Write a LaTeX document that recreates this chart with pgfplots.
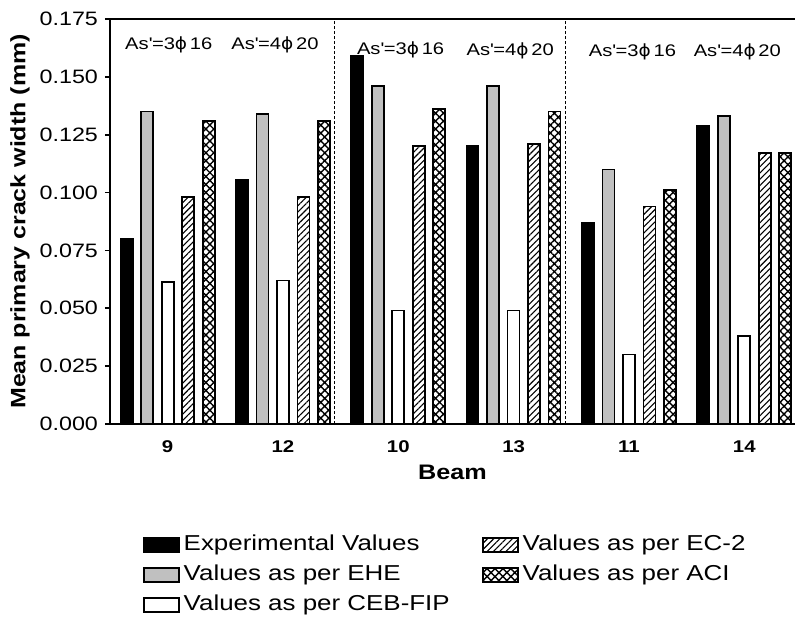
\documentclass[border=0pt]{standalone}
\usepackage{pgfplots}
\pgfplotsset{compat=1.18}
\usepackage{pgfplotstable}
\usetikzlibrary{patterns.meta}
\usepackage{fontspec}
\setmainfont{Liberation Sans}[FakeStretch=1.2]
\newfontfamily\dejavu{DejaVu Sans}[FakeStretch=1.1]
\newcommand\ph{{\dejavu ϕ}}

\pgfplotstableread{
x Exp EHE CEB EC2 ACI
0 0.080 0.135 0.0615 0.098 0.131
1 0.1055 0.134 0.062 0.098 0.131
2 0.159 0.146 0.049 0.120 0.136
3 0.120 0.146 0.049 0.121 0.135
4 0.087 0.110 0.030 0.094 0.101
5 0.129 0.133 0.038 0.117 0.117
}\data

\pgfplotsset{
  mybar/.style={ybar, bar width=6pt, draw=black, line width=0.85pt,
    legend image code/.code={\draw[##1,/tikz/.cd] (0pt,-3.5pt) rectangle (17.5pt,3.5pt); \path (19.5pt,0pt);}},
}

\begin{document}
\begin{tikzpicture}
\useasboundingbox (-55pt,-102pt) rectangle (342.5pt,212pt);
\begin{axis}[
  at={(0,0)}, anchor=south west,
  scale only axis, width=342.5pt, height=202.5pt,
  xmin=-0.5, xmax=5.44, ymin=0, ymax=0.175,
  axis x line=box, axis y line=left,
  axis line style={-, line width=0.8pt},
  xtick={0,1,2,3,4,5}, xticklabels={9,12,10,13,11,14},
  xticklabel pos=lower,
  x tick style={draw=none},
  xticklabel style={font=\bfseries\fontsize{8.5}{10}\selectfont, anchor=center, yshift=-9pt},
  ytick={0,0.025,0.05,0.075,0.1,0.125,0.15,0.175},
  ytick pos=left,
  y tick style={line width=0.8pt, black},
  tick align=outside, major tick length=2.5pt,
  yticklabel style={font=\fontsize{9.7}{11}\selectfont, /pgf/number format/.cd, fixed, fixed zerofill, precision=3, assume math mode=true},
  extra x ticks={1.45,3.45}, extra x tick labels={},
  extra x tick style={grid=major, major grid style={black, line width=0.6pt, dash pattern=on 1.5pt off 1pt}, major tick length=0pt},
  ylabel={Mean primary crack width (mm)},
  ylabel style={font=\bfseries\fontsize{10.4}{12}\selectfont, at={(axis description cs:-0.1314,0.5)}, anchor=center},
  xlabel={Beam},
  xlabel style={font=\bfseries\fontsize{10.5}{12}\selectfont, at={(axis description cs:0.5,0)}, anchor=center, yshift=-24pt},
  legend columns=2, legend cell align=left,
  legend style={at={(axis description cs:0.0482,0)}, anchor=north west, yshift=-55.45pt,
    draw=none, fill=none, inner sep=0pt, outer sep=0pt, row sep=4.9pt,
    font=\fontsize{10.8}{13}\selectfont,
    nodes={inner sep=0pt, text height=7.8pt, text depth=2.3pt},
    /tikz/every even column/.append style={column sep=16.1pt}},
]
\addplot[mybar, bar shift=-20.5pt, fill=black] table[x=x, y=Exp] {\data};
\addlegendentry{Experimental Values}
\addplot[mybar, bar shift=10.25pt, pattern={Lines[angle=45,distance=2.2pt,line width=0.55pt]}] table[x=x, y=EC2] {\data};
\addlegendentry{Values as per EC-2}
\addplot[mybar, bar shift=-10.25pt, fill={rgb,255:red,192;green,192;blue,192}] table[x=x, y=EHE] {\data};
\addlegendentry{Values as per EHE}
\addplot[mybar, bar shift=20.5pt, pattern={Hatch[angle=45,distance=2.8pt,line width=0.7pt]}] table[x=x, y=ACI] {\data};
\addlegendentry{Values as per ACI}
\addplot[mybar, bar shift=0pt, fill=white] table[x=x, y=CEB] {\data};
\addlegendentry{Values as per CEB-FIP}

\node[font=\fontsize{8.4}{10}\selectfont] at (axis cs:0.01,0.1638) {As\textquotesingle=3\ph\,16};
\node[font=\fontsize{8.4}{10}\selectfont] at (axis cs:0.93,0.1638) {As\textquotesingle=4\ph\,20};
\node[font=\fontsize{8.4}{10}\selectfont] at (axis cs:2.02,0.1616) {As\textquotesingle=3\ph\,16};
\node[font=\fontsize{8.4}{10}\selectfont] at (axis cs:2.97,0.1612) {As\textquotesingle=4\ph\,20};
\node[font=\fontsize{8.4}{10}\selectfont] at (axis cs:4.03,0.1607) {As\textquotesingle=3\ph\,16};
\node[font=\fontsize{8.4}{10}\selectfont] at (axis cs:4.94,0.1607) {As\textquotesingle=4\ph\,20};
\end{axis}
\end{tikzpicture}
\end{document}
